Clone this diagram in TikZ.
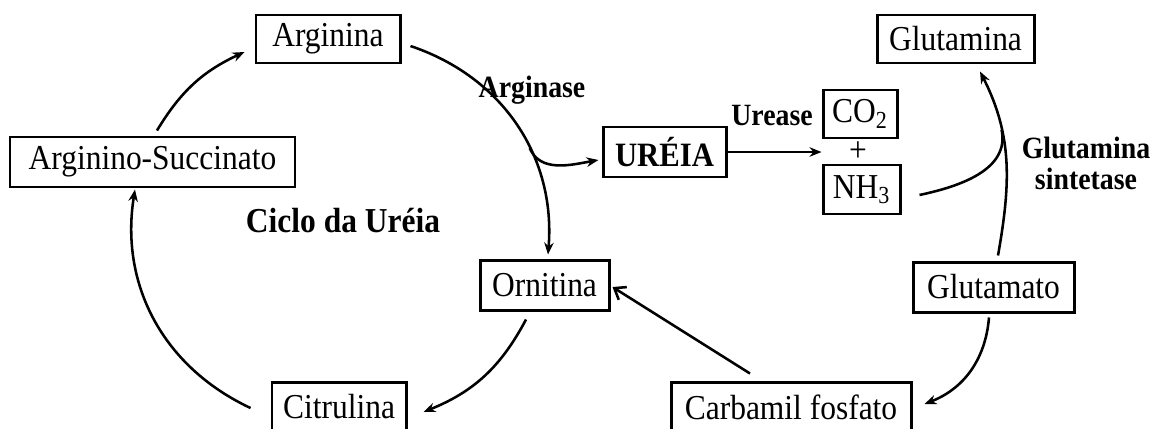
\documentclass[tikz,border=0pt]{standalone}
\usepackage{fontspec}
\setmainfont{Liberation Serif}[FakeStretch=0.9]
\usetikzlibrary{arrows.meta}

\begin{document}
\begin{tikzpicture}[
    caixa/.style={draw, line width=1.7pt, inner sep=0pt, font=\fontsize{19.9}{22}\selectfont},
    seta/.style={line width=1.45pt, -{Stealth[length=0.24cm,width=0.19cm]}},
    enzima/.style={font=\fontsize{17.6}{17.6}\selectfont\bfseries, align=center}
]
    \useasboundingbox (0,0) rectangle (23.16,8.56);
    \node[caixa, minimum width=2.88cm, minimum height=0.96cm] (arg) at (6.56,7.78) {Arginina};
    \node[caixa, minimum width=5.70cm, minimum height=1.00cm] (as) at (3.05,5.32) {Arginino-Succinato};
    \node[caixa, minimum width=2.68cm, minimum height=1.00cm] (cit) at (6.78,0.42) {Citrulina};
    \node[caixa, minimum width=2.58cm, minimum height=1.00cm] (orn) at (10.89,2.86) {Ornitina};
    \node[caixa, minimum width=2.46cm, minimum height=1.00cm, font=\fontsize{19.4}{22}\selectfont\bfseries] (ur) at (13.29,5.52) {URÉIA};
    \node[caixa, minimum width=1.48cm, minimum height=0.96cm] (co2) at (17.20,6.28) {CO\textsubscript{2}};
    \node[font=\fontsize{19.9}{22}\selectfont] (mais) at (17.16,5.52) {+};
    \node[caixa, minimum width=1.54cm, minimum height=0.98cm] (nh3) at (17.23,4.77) {NH\textsubscript{3}};
    \node[caixa, minimum width=3.14cm, minimum height=0.96cm] (gln) at (19.11,7.78) {Glutamina};
    \node[caixa, minimum width=3.22cm, minimum height=1.00cm] (glu) at (19.87,2.82) {Glutamato};
    \node[caixa, minimum width=4.80cm, minimum height=1.00cm] (cf) at (15.82,0.42) {Carbamil fosfato};

    \node[enzima, anchor=base] (ase) at (10.64,6.62) {Arginase};
    \node[font=\fontsize{19.9}{22}\selectfont\bfseries, anchor=base] (ciclo) at (6.86,3.92) {Ciclo da Uréia};
    \node[enzima, anchor=base] (ure) at (15.44,6.06) {Urease};
    \node[enzima] (gs) at (21.72,5.30) {Glutamina\\sintetase};

    \draw[seta] ([shift={(0.09,0.10)}]as.north) to[bend left=17] ([shift={(-0.20,-0.26)}]arg.west);
    \draw[seta] ([shift={(0.18,-0.14)}]arg.east) to[bend left=38] coordinate[pos=0.6] (ramo) ([shift={(0.07,0.08)}]orn.north);
    \draw[seta] (ramo) to[out=-67,in=190] ([shift={(-0.06,-0.16)}]ur.west);
    \draw[seta] (ur.east) -- (ur.east -| co2.west);
    \draw[seta] ([shift={(0.09,0.10)}]glu.north) to[out=80,in=-63] coordinate[pos=0.68] (junta) ([shift={(0.49,-0.14)}]gln.south);
    \draw[line width=1.45pt] ([shift={(0.36,-0.11)}]nh3.east) to[out=12,in=-78] (junta);
    \draw[seta] ([shift={(-0.09,-0.08)}]glu.south) to[bend left=32] ([shift={(0.24,0.06)}]cf.east);
    \draw[line width=1.45pt, -{Straight Barb[length=0.2cm,width=0.3cm]}] ([shift={(-0.82,0.14)}]cf.north) -- ([shift={(0.04,-0.04)}]orn.east);
    \draw[seta] ([shift={(-0.37,-0.16)}]orn.south) to[bend left=20] ([shift={(0.32,-0.10)}]cit.east);
    \draw[seta] ([shift={(-0.40,-0.02)}]cit.west) to[bend left=37] ([shift={(-0.35,-0.02)}]as.south);
\end{tikzpicture}
\end{document}
